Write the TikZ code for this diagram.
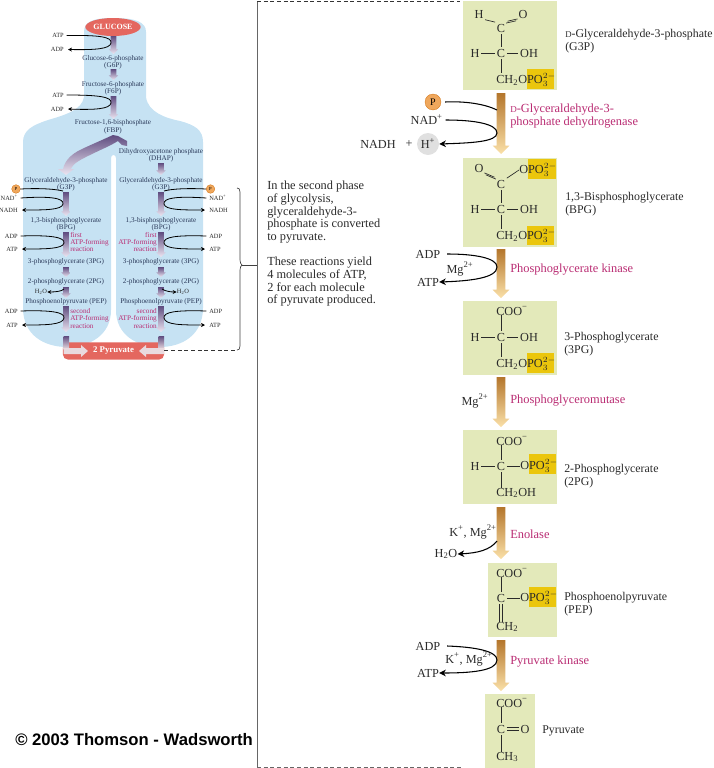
\documentclass[tikz,border=0pt]{standalone}
\usepackage{fontspec}
\setmainfont{Liberation Serif}
\newfontfamily\hvfont{Liberation Sans}
\usetikzlibrary{calc,arrows.meta,shapes.geometric}
\definecolor{lobeblue}{HTML}{C6E2F3}
\definecolor{boxgreen}{HTML}{E3E9BA}
\definecolor{hiyellow}{HTML}{EBC60C}
\definecolor{enzyme}{HTML}{B92B72}
\definecolor{inktext}{HTML}{2A2A2A}
\definecolor{navytext}{HTML}{2B3A5A}
\definecolor{pyrured}{HTML}{E4675F}
\definecolor{brownA}{HTML}{B4762C}
\definecolor{brownB}{HTML}{FAE0A8}
\definecolor{purpA}{HTML}{5F4C80}
\definecolor{purpB}{HTML}{EDE6F2}
\definecolor{phosph}{HTML}{EFA75C}
\definecolor{barwhite}{HTML}{E9DADF}
\tikzset{
  boxg/.style={fill=boxgreen,draw=none},
  hilite/.style={fill=hiyellow,draw=none},
  bigt/.style={inner sep=0pt,text=inktext,font=\fontsize{9.2}{10}\selectfont},
  namet/.style={inner sep=0pt,anchor=west,text=inktext,font=\fontsize{8.9}{10}\selectfont},
  atom/.style={inner sep=1.1pt,text=inktext,font=\fontsize{9.2}{10}\selectfont},
  enz/.style={inner sep=0pt,anchor=west,text=enzyme,font=\fontsize{9.3}{10}\selectfont},
  smallt/.style={inner sep=0pt,text=navytext,font=\fontsize{5.4}{6}\selectfont},
  sidet/.style={inner sep=0pt,text=inktext,font=\fontsize{4.8}{6}\selectfont},
  smallenz/.style={inner sep=0pt,text=enzyme,font=\fontsize{5.4}{5.3}\selectfont},
  bond/.style={draw=inktext,line width=.5pt},
  curvA/.style={draw=black,line width=.8pt,-{Stealth[length=5pt,width=5pt]}},
  curvN/.style={draw=black,line width=.8pt},
  curvS/.style={draw=black,line width=.6pt,-{Stealth[length=3pt,width=3pt]}},
  curvT/.style={draw=black,line width=.6pt},
  brown/.style={top color=brownA,bottom color=brownB,draw=none},
  purp/.style={top color=purpA,bottom color=purpB,draw=none},
}
\newcommand\fatarrow[5]{%
  \shade[#3] let \p1=(#1),\p2=(#2) in
    (\x1-#4,\y1) -- (\x1+#4,\y1) -- (\x1+#4,\y2+#5) -- (\x1+#5,\y2+#5) -- (\x2,\y2)
    -- (\x1-#5,\y2+#5) -- (\x1-#4,\y2+#5) -- cycle;}
\newcommand\purarrow[4]{%
  \coordinate (#1-a) at (#2,#3); \coordinate (#1-b) at (#2,#4);
  \fatarrow{#1-a}{#1-b}{purp}{2.1pt}{3.4pt}}
\newcommand\dbl[4]{%
  \draw[bond] ([shift={(#3,#4)}]#1) -- ([shift={(#3,#4)}]#2);
  \draw[bond] ([shift={(-#3,-#4)}]#1) -- ([shift={(-#3,-#4)}]#2);}
\newcommand\POthree{PO$_{3}^{2-}$}
\newcommand\CHtwoOPO{CH\textsubscript{2}O\POthree}
\begin{document}
\begin{tikzpicture}[x=.75pt,y=-.75pt]
\useasboundingbox (0,0) rectangle (714,768);
% ---------- left: blue silhouette
\fill[lobeblue] (84,97) -- (84,32) .. controls (84,22) and (92,18) .. (113,18)
  .. controls (136,18) and (146,22) .. (146,32) -- (146,97)
  .. controls (148,112) and (165,118) .. (180,121)
  .. controls (195,125) and (203,130) .. (203,142) -- (203,308)
  .. controls (203,335) and (182,347) .. (160,347)
  .. controls (137,347) and (116,335) .. (116,310) -- (116,158)
  .. controls (116,154) and (111,154) .. (111,158) -- (111,310)
  .. controls (111,335) and (90,347) .. (67,347)
  .. controls (44,347) and (23,335) .. (23,308) -- (23,142)
  .. controls (23,130) and (33,125) .. (48,120)
  .. controls (65,115) and (82,110) .. (84,97) -- cycle;
% glucose
\node[ellipse,fill=pyrured,minimum width=36pt,minimum height=13.5pt,inner sep=0pt,text=white,font=\bfseries\fontsize{6}{6}\selectfont] (glucose) at (113,27) {GLUCOSE};
% pyruvate bar
\node[rounded corners=4pt,fill=pyrured,minimum width=76pt,minimum height=13pt,inner sep=0pt,text=white,font=\bfseries\fontsize{6.6}{7}\selectfont] (twopyr) at (113.5,351) {2 Pyruvate};
% top stem labels
\node[smallt] (t-g6p) at (113,58.5) {Glucose-6-phosphate};
\node[smallt] (t-g6pb) at (113,66) {(G6P)};
\node[smallt] (t-f6p) at (113,85) {Fructose-6-phosphate};
\node[smallt] (t-f6pb) at (113,92) {(F6P)};
\node[smallt] (t-fbp) at (113,123) {Fructose-1,6-bisphosphate};
\node[smallt] (t-fbpb) at (113,131) {(FBP)};
\node[smallt] (t-dhap) at (161,152) {Dihydroxyacetone phosphate};
\node[smallt] (t-dhapb) at (161,159) {(DHAP)};
\node[sidet,anchor=east] (s-atp1) at (64,35.5) {ATP};
\node[sidet,anchor=east] (s-adp1) at (64,49.5) {ADP};
\node[sidet,anchor=east] (s-atp2) at (64,95) {ATP};
\node[sidet,anchor=east] (s-adp2) at (64,109) {ADP};
\purarrow{p1}{113.5}{36}{54}
\purarrow{p2}{113.5}{69}{80}
\purarrow{p3}{113.5}{96}{119}
\purarrow{p4}{161}{163}{175}
\draw[curvS] ([xshift=2pt]s-atp1.east) .. controls (100,35) and (112,37) .. (111,43) .. controls (110,49) and (95,50) .. ([xshift=3pt]s-adp1.east);
\draw[curvS] ([xshift=2pt]s-atp2.east) .. controls (100,95) and (112,97) .. (111,103) .. controls (110,109) and (95,110) .. ([xshift=3pt]s-adp2.east);
% split arrow
\shade[purp] (113,135) .. controls (100,141) and (88,146) .. (80,150)
  .. controls (72,154) and (65,160) .. (63,169) -- (58,169) -- (66,175) -- (74,169) -- (71,169)
  .. controls (73,163) and (82,159) .. (90,155) .. controls (100,150) and (110,146) .. (118,141)
  -- (122,145) -- (127,146) -- (127,141) -- (118,136) -- cycle;
% branches
\foreach \tg/\cx in {L/66,R/161}{
  \node[smallt] (\tg-g3p) at (\cx,180.5) {Glyceraldehyde-3-phosphate};
  \node[smallt] (\tg-g3pb) at (\cx,188) {(G3P)};
  \node[smallt] (\tg-bpg) at (\cx,221) {1,3-bisphosphoglycerate};
  \node[smallt] (\tg-bpgb) at (\cx,228) {(BPG)};
  \node[smallt] (\tg-3pg) at (\cx,262) {3-phosphoglycerate (3PG)};
  \node[smallt] (\tg-2pg) at (\cx,282) {2-phosphoglycerate (2PG)};
  \node[smallt] (\tg-pep) at (\cx,302) {Phosphoenolpyruvate (PEP)};
  \purarrow{\tg a}{\cx}{192}{216}
  \purarrow{\tg b}{\cx}{232}{257}
  \purarrow{\tg c}{\cx}{267}{277}
  \purarrow{\tg d}{\cx}{287}{298}
  \purarrow{\tg e}{\cx}{306}{332}
}
% bar arrows
\shade[top color=purpA,bottom color=barwhite] (63.5,336) rectangle (69,349);
\shade[top color=purpA,bottom color=barwhite] (158.5,336) rectangle (164,349);
\fill[barwhite] (63.5,348) -- (63.5,354) -- (81,354) -- (81,357) -- (88,351) -- (81,345) -- (81,348) -- cycle;
\fill[barwhite] (164,348) -- (164,354) -- (146,354) -- (146,357) -- (139,351) -- (146,345) -- (146,348) -- cycle;
% left side cofactors
\node[circle,fill=phosph,draw=orange!80!black,line width=.2pt,minimum size=6.5pt,inner sep=0pt,font=\fontsize{3.5}{4}\selectfont] (LP) at (16,189) {P};
\node[sidet,anchor=east] (Lnad) at (18,198) {NAD\textsuperscript{+}};
\node[sidet,anchor=east] (Lnadh) at (18,210) {NADH};
\node[sidet,anchor=east] (Ladp1) at (18,236) {ADP};
\node[sidet,anchor=east] (Latp1) at (18,249) {ATP};
\node[sidet,anchor=east] (Ladp2) at (18,311) {ADP};
\node[sidet,anchor=east] (Latp2) at (18,325) {ATP};
\node[sidet] (Lh2o) at (41,292) {H\textsubscript{2}O};
\coordinate (Lj1) at (63,191); \coordinate (Lj2) at (64,289);
\draw[curvT] (LP.east) .. controls (40,188) and (55,189) .. (Lj1);
\draw[curvS] ([xshift=2pt]Lnad.east) .. controls (50,196) and (64,198) .. (63,204) .. controls (62,210) and (45,210) .. ([xshift=3pt]Lnadh.east);
\draw[curvS] ([xshift=2pt]Ladp1.east) .. controls (50,235) and (65,237) .. (64,243) .. controls (63,249) and (45,249) .. ([xshift=3pt]Latp1.east);
\draw[curvS] ([xshift=2pt]Ladp2.east) .. controls (50,310) and (65,312) .. (64,318) .. controls (63,325) and (45,325) .. ([xshift=3pt]Latp2.east);
\draw[curvS] (Lj2) .. controls (62,291) and (57,292) .. (Lh2o.east);
\node[smallenz,anchor=west,align=left] (Lf1) at (70,242) {first\\ATP-forming\\reaction};
\node[smallenz,anchor=west,align=left] (Lf2) at (70,318.5) {second\\ATP-forming\\reaction};
% right side cofactors
\node[circle,fill=phosph,draw=orange!80!black,line width=.2pt,minimum size=6.5pt,inner sep=0pt,font=\fontsize{3.5}{4}\selectfont] (RP) at (210.5,189) {P};
\node[sidet,anchor=west] (Rnad) at (209,198) {NAD\textsuperscript{+}};
\node[sidet,anchor=west] (Rnadh) at (209,210) {NADH};
\node[sidet,anchor=west] (Radp1) at (209,236) {ADP};
\node[sidet,anchor=west] (Ratp1) at (209,249) {ATP};
\node[sidet,anchor=west] (Radp2) at (209,311) {ADP};
\node[sidet,anchor=west] (Ratp2) at (209,325) {ATP};
\node[sidet] (Rh2o) at (183,292) {H\textsubscript{2}O};
\coordinate (Rj1) at (164,191); \coordinate (Rj2) at (162,289);
\draw[curvT] (RP.west) .. controls (186,188) and (171,189) .. (Rj1);
\draw[curvS] ([xshift=-2pt]Rnad.west) .. controls (176,196) and (163,198) .. (164,204) .. controls (165,210) and (182,210) .. ([xshift=-3pt]Rnadh.west);
\draw[curvS] ([xshift=-2pt]Radp1.west) .. controls (176,235) and (163,237) .. (164,243) .. controls (165,249) and (182,249) .. ([xshift=-3pt]Ratp1.west);
\draw[curvS] ([xshift=-2pt]Radp2.west) .. controls (176,310) and (163,312) .. (164,318) .. controls (165,325) and (182,325) .. ([xshift=-3pt]Ratp2.west);
\draw[curvS] (Rj2) .. controls (165,291) and (170,292) .. (Rh2o.west);
\node[smallenz,anchor=east,align=right] (Rf1) at (157,242) {first\\ATP-forming\\reaction};
\node[smallenz,anchor=east,align=right] (Rf2) at (157,318.5) {second\\ATP-forming\\reaction};
% brace and dashed frame
\coordinate (brTop) at (237,188); \coordinate (brTip) at (242,265); \coordinate (brBot) at (237,350);
\coordinate (frT) at (257,1); \coordinate (frB) at (257,767); \coordinate (frTe) at (460,1); \coordinate (frBe) at (463,767); \coordinate (brJ) at (257,265);
\draw[black!75,line width=.5pt] (brTop) .. controls (239,188) and (240,189) .. (240,192) -- (240,260) .. controls (240,263) and (241,264) .. (brTip) .. controls (241,266) and (240,267) .. (240,270) -- (240,346) .. controls (240,349) and (239,350) .. (brBot);
\draw[black!75,line width=.5pt] (brTip) -- (brJ);
\draw[black!80,line width=.5pt,dash pattern=on 3pt off 2pt] (twopyr.east |- brBot) -- (brBot);
\draw[black!60,line width=.5pt] (frT) -- (frB);
\draw[black!80,line width=.5pt,dash pattern=on 3pt off 2pt] (frT) -- (frTe);
\draw[black!60,line width=.5pt,dash pattern=on 3pt off 2pt] (frB) -- (frBe);
% paragraph
\node[bigt,anchor=north west,align=left,font=\fontsize{9.25}{9.45}\selectfont] (para1) at (267,181) {In the second phase\\of glycolysis,\\glyceraldehyde-3-\\phosphate is converted\\to pyruvate.};
\node[bigt,anchor=north west,align=left,font=\fontsize{9.25}{9.45}\selectfont] (para2) at (267,257) {These reactions yield\\4 molecules of ATP,\\2 for each molecule\\of pyruvate produced.};
\node[inner sep=0pt,anchor=west,text=black,font=\hvfont\bfseries\fontsize{12.5}{13}\selectfont] (copy) at (15,740) {© 2003 Thomson - Wadsworth};
% ---------- right column boxes
\fill[boxg] (463,1) rectangle (557,90); 
\fill[boxg] (463,158) rectangle (557,246.5);
\fill[boxg] (463,301) rectangle (557,375);
\fill[boxg] (463,430) rectangle (557,504);
\fill[boxg] (488,563) rectangle (557,637);
\fill[boxg] (485,694) rectangle (535,768);
\fill[hilite] (527,69) rectangle (554,89);
\fill[hilite] (528,159) rectangle (556,179);
\fill[hilite] (527,226) rectangle (554,245);
\fill[hilite] (527,353) rectangle (554,373);
\fill[hilite] (529,454) rectangle (556,474);
\fill[hilite] (529,587) rectangle (556,607);
% fat arrows
\foreach \tg/\ya/\yb in {1/93/154,2/249/298,3/377/427,4/507/559,5/640/691}{
  \coordinate (fa\tg) at (501,\ya); \coordinate (fb\tg) at (501,\yb);
  \fatarrow{fa\tg}{fb\tg}{brown}{3.2pt}{6.2pt}
}
% G3P
\node[atom] (a-h) at (479,14) {H};
\node[atom] (a-o) at (523,14) {O};
\node[atom] (a-c) at (501,28) {C};
\node[atom] (a-ch) at (475,53) {H};
\node[atom] (a-cc) at (501,53) {C};
\node[atom] (a-oh) at (529,53) {OH};
\node[atom,anchor=west,inner sep=0pt] (a-r) at (496,80) {\CHtwoOPO};
\draw[bond] (a-h.south east) -- (a-c.north west);
\dbl{a-c.north east}{a-o.south west}{.5pt}{.7pt}
\draw[bond] (a-c.south) -- (a-cc.north);
\draw[bond] (a-ch.east) -- (a-cc.west);
\draw[bond] (a-cc.east) -- (a-oh.west);
\draw[bond] (a-cc.south) -- (a-cc.south |- a-r.north);
\node[namet] (n1) at (565,35) {{\fontsize{6.6}{8}\selectfont D}-Glyceraldehyde-3-phosphate};
\node[namet] (n1b) at (565,48) {(G3P)};
% BPG
\node[atom] (b-o) at (479,168) {O};
\node[atom,anchor=west,inner sep=0pt] (b-p) at (519,170) {O\POthree};
\node[atom] (b-c) at (501,184) {C};
\node[atom] (b-ch) at (475,209) {H};
\node[atom] (b-cc) at (501,209) {C};
\node[atom] (b-oh) at (529,209) {OH};
\node[atom,anchor=west,inner sep=0pt] (b-r) at (496,236) {\CHtwoOPO};
\dbl{b-o.south east}{b-c.north west}{.5pt}{-.7pt}
\draw[bond] (b-c.north east) -- (b-p.west);
\draw[bond] (b-c.south) -- (b-cc.north);
\draw[bond] (b-ch.east) -- (b-cc.west);
\draw[bond] (b-cc.east) -- (b-oh.west);
\draw[bond] (b-cc.south) -- (b-cc.south |- b-r.north);
\node[namet] (n2) at (565,198) {1,3-Bisphosphoglycerate};
\node[namet] (n2b) at (565,211) {(BPG)};
% 3PG
\node[atom,anchor=west,inner sep=0pt] (c-coo) at (496,311) {COO\textsuperscript{−}};
\node[atom] (c-ch) at (475,337) {H};
\node[atom] (c-cc) at (501,337) {C};
\node[atom] (c-oh) at (529,337) {OH};
\node[atom,anchor=west,inner sep=0pt] (c-r) at (496,364) {\CHtwoOPO};
\draw[bond] (c-cc.north) -- (c-cc.north |- c-coo.south);
\draw[bond] (c-ch.east) -- (c-cc.west);
\draw[bond] (c-cc.east) -- (c-oh.west);
\draw[bond] (c-cc.south) -- (c-cc.south |- c-r.north);
\node[namet] (n3) at (564,338) {3-Phosphoglycerate};
\node[namet] (n3b) at (564,351) {(3PG)};
% 2PG
\node[atom,anchor=west,inner sep=0pt] (d-coo) at (496,441) {COO\textsuperscript{−}};
\node[atom] (d-ch) at (475,466) {H};
\node[atom] (d-cc) at (501,466) {C};
\node[atom,anchor=west,inner sep=0pt] (d-p) at (520,466) {O\POthree};
\node[atom,anchor=west,inner sep=0pt] (d-r) at (496,493) {CH\textsubscript{2}OH};
\draw[bond] (d-cc.north) -- (d-cc.north |- d-coo.south);
\draw[bond] (d-ch.east) -- (d-cc.west);
\draw[bond] (d-cc.east) -- (d-p.west);
\draw[bond] (d-cc.south) -- (d-cc.south |- d-r.north);
\node[namet] (n4) at (564,470) {2-Phosphoglycerate};
\node[namet] (n4b) at (564,483) {(2PG)};
% PEP
\node[atom,anchor=west,inner sep=0pt] (e-coo) at (496,573) {COO\textsuperscript{−}};
\node[atom] (e-cc) at (501,598) {C};
\node[atom,anchor=west,inner sep=0pt] (e-p) at (520,598) {O\POthree};
\node[atom,anchor=west,inner sep=0pt] (e-r) at (496,627) {CH\textsubscript{2}};
\draw[bond] (e-cc.north) -- (e-cc.north |- e-coo.south);
\draw[bond] (e-cc.east) -- (e-p.west);
\dbl{e-cc.south}{e-cc.south |- e-r.north}{.9pt}{0pt}
\node[namet] (n5) at (564,598) {Phosphoenolpyruvate};
\node[namet] (n5b) at (564,611) {(PEP)};
% Pyruvate
\node[atom,anchor=west,inner sep=0pt] (f-coo) at (496,703) {COO\textsuperscript{−}};
\node[atom] (f-cc) at (501,729) {C};
\node[atom] (f-o) at (525,729) {O};
\node[atom,anchor=west,inner sep=0pt] (f-r) at (496,757) {CH\textsubscript{3}};
\draw[bond] (f-cc.north) -- (f-cc.north |- f-coo.south);
\dbl{f-cc.east}{f-o.west}{0pt}{.9pt}
\draw[bond] (f-cc.south) -- (f-cc.south |- f-r.north);
\node[namet] (n6) at (542,731) {Pyruvate};
% enzymes
\node[enz] (e1) at (510,110) {{\fontsize{6.8}{8}\selectfont D}-Glyceraldehyde-3-};
\node[enz] (e1b) at (510,123) {phosphate dehydrogenase};
\node[enz] (e2) at (510,270) {Phosphoglycerate kinase};
\node[enz] (e3) at (510,401) {Phosphoglyceromutase};
\node[enz] (e4) at (510,534) {Enolase};
\node[enz] (e5) at (510,662) {Pyruvate kinase};
% cofactors
\node[circle,fill=phosph,draw=orange!80!black,line width=.2pt,minimum size=12pt,inner sep=0pt,font=\fontsize{7.5}{8}\selectfont] (P1) at (433,102) {P};
\node[bigt,anchor=east] (nad) at (443,120) {NAD\textsuperscript{+}};
\node[circle,fill=black!12,minimum size=16.5pt,inner sep=0pt,font=\fontsize{9.2}{10}\selectfont,text=inktext] (hp) at (428,144) {H\textsuperscript{+}};
\node[bigt] (nadh) at (378,144) {NADH};
\node[bigt] (plus) at (409,144) {+};
\coordinate (j1) at (497,110);
\draw[curvN] ([xshift=3pt]P1.east) .. controls (465,101) and (485,104) .. (j1);
\draw[curvA] ([xshift=2pt]nad.east) .. controls (475,120) and (497,124) .. (497,133) .. controls (497,142) and (470,143) .. (hp.east);
\node[bigt] (adp1) at (428,254) {ADP};
\node[bigt] (atp1) at (428,282) {ATP};
\node[bigt] (mg1) at (460,269) {Mg\textsuperscript{2+}};
\draw[curvA] ([xshift=5pt]adp1.east) .. controls (475,254) and (497,258) .. (497,267) .. controls (497,278) and (470,281) .. (atp1.east);
\node[bigt] (mg2) at (475,401) {Mg\textsuperscript{2+}};
\node[bigt] (kmg1) at (473,532) {K\textsuperscript{+}, Mg\textsuperscript{2+}};
\node[bigt] (h2o) at (446,554) {H\textsubscript{2}O};
\coordinate (j2) at (497,541);
\draw[curvA] (j2) .. controls (490,550) and (478,553) .. (h2o.east);
\node[bigt] (adp2) at (428,646) {ADP};
\node[bigt] (atp2) at (428,673) {ATP};
\node[bigt] (kmg2) at (469,659) {K\textsuperscript{+}, Mg\textsuperscript{2+}};
\draw[curvA] ([xshift=5pt]adp2.east) .. controls (475,647) and (497,651) .. (497,660) .. controls (497,671) and (470,673) .. (atp2.east);
\end{tikzpicture}
\end{document}
